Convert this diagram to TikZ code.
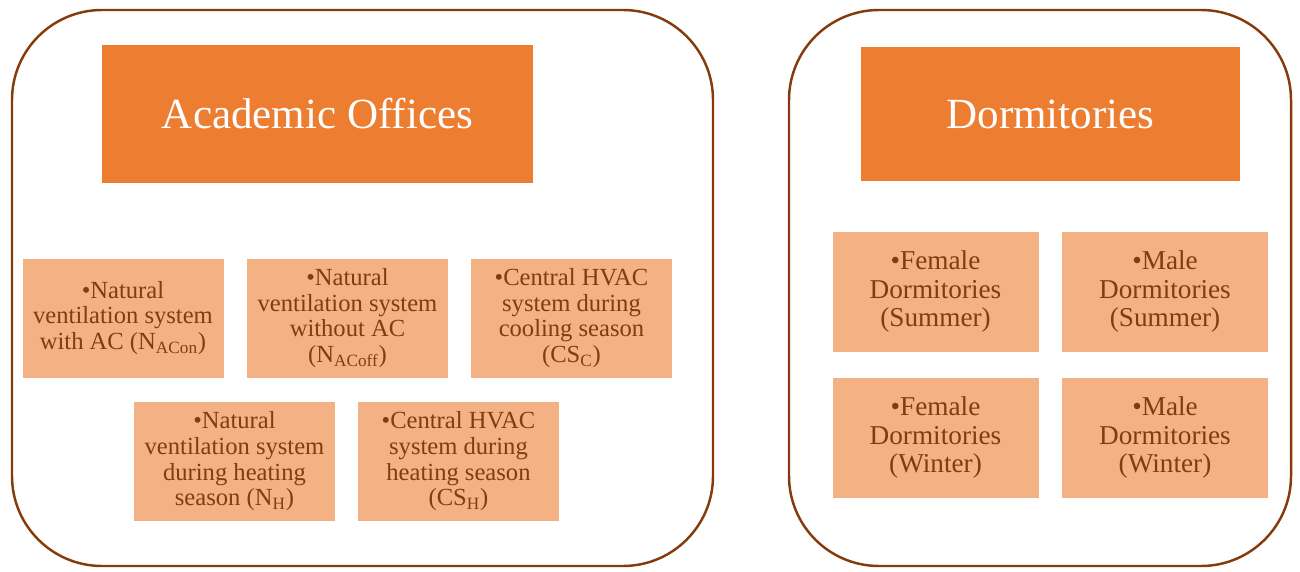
\documentclass[tikz,border=0pt]{standalone}
\usepackage{fontspec}
\setmainfont{Liberation Serif}
\usepackage{tikz}
\definecolor{edqqqq}{HTML}{ED7D31}
\definecolor{fbqqqq}{HTML}{F4B183}
\definecolor{bcqqqq}{HTML}{843C0C}
\tikzset{
  container/.style={line width=1.4pt,color=bcqqqq,rounded corners=1.8cm},
  header/.style={fill=edqqqq,text=white,inner sep=0pt,align=center,font=\fontsize{24.5}{28}\selectfont},
  item/.style={fill=fbqqqq,draw=white,line width=0.5pt,text=bcqqqq,inner sep=0pt,align=center},
  itemoffice/.style={item,minimum width=4.04cm,minimum height=2.4cm,font=\fontsize{14}{14.6}\selectfont},
  itemdorm/.style={item,minimum width=4.14cm,minimum height=2.42cm,font=\fontsize{15.5}{16.4}\selectfont}
}
\begin{document}
\begin{tikzpicture}[line cap=round,line join=round,x=0.02cm,y=-0.02cm]
%\draw [color=gray!30, xstep=2cm,ystep=2cm] (0,0) grid (1300,571);
\useasboundingbox (0,0) rectangle (1300,571);
\draw [container] (12,10) rectangle (713,566);
\draw [container] (789,10) rectangle (1291,566);
\node [header,minimum width=8.62cm,minimum height=2.76cm] (offices) at (317.5,114) {Academic Offices};
\node [header,minimum width=7.58cm,minimum height=2.68cm] (dorms) at (1050.5,114) {Dormitories};
\node [itemoffice] (nacon) at (123,318) {•Natural\\ventilation system\\with AC (N\textsubscript{ACon})};
\node [itemoffice] (nacoff) at (347.5,318) {•Natural\\ventilation system\\without AC\\(N\textsubscript{ACoff})};
\node [itemoffice] (csc) at (571.5,318) {•Central HVAC\\system during\\cooling season\\(CS\textsubscript{C})};
\node [itemoffice] (nh) at (234.5,461.5) {•Natural\\ventilation system\\during heating\\season (N\textsubscript{H})};
\node [itemoffice] (csh) at (458.5,461.5) {•Central HVAC\\system during\\heating season\\(CS\textsubscript{H})};
\node [itemdorm] (fsummer) at (935.5,291.5) {•Female\\Dormitories\\(Summer)};
\node [itemdorm] (msummer) at (1165,291.5) {•Male\\Dormitories\\(Summer)};
\node [itemdorm] (fwinter) at (935.5,437.5) {•Female\\Dormitories\\(Winter)};
\node [itemdorm] (mwinter) at (1165,437.5) {•Male\\Dormitories\\(Winter)};
\end{tikzpicture}
\end{document}
